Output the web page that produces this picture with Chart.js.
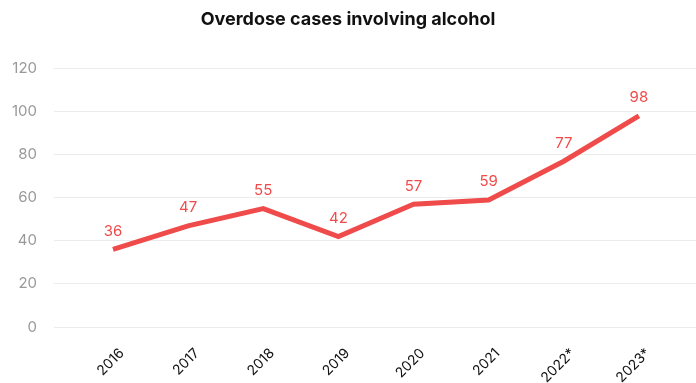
<!DOCTYPE html>
<html>
<head>
<meta charset="utf-8">
<script src="https://cdn.jsdelivr.net/npm/chart.js@4"></script>
<style>
  html, body { margin: 0; padding: 0; background: #fff; }
  #wrap { width: 696px; height: 383px; }
</style>
</head>
<body>
<div id="wrap"><canvas id="alcoholChart"></canvas></div>
<script>
// Overdose cases involving alcohol, per year
const years = ['2016', '2017', '2018', '2019', '2020', '2021', '2022*', '2023*'];
const cases = [36, 47, 55, 42, 57, 59, 77, 98];
const yTicks = [0, 20, 40, 60, 80, 100, 120];

const red = '#f04b4b';

// value above every point of the line
const valueLabels = {
  id: 'valueLabels',
  afterDatasetsDraw(chart) {
    const ctx = chart.ctx;
    const meta = chart.getDatasetMeta(0);
    ctx.save();
    ctx.fillStyle = red;
    ctx.font = '15px Inter';
    ctx.textAlign = 'center';
    ctx.textBaseline = 'middle';
    meta.data.forEach((pt, i) => {
      ctx.fillText(String(cases[i]), pt.x, pt.y - 18);
    });
    ctx.restore();
  }
};

const ctx = document.getElementById('alcoholChart').getContext('2d');
new Chart(ctx, {
  type: 'line',
  data: {
    datasets: [{
      label: 'Overdose cases involving alcohol',
      data: cases.map((v, i) => ({ x: i, y: v })),
      borderColor: red,
      borderWidth: 5,
      pointRadius: 0,
      tension: 0,
      fill: false
    }]
  },
  options: {
    responsive: true,
    maintainAspectRatio: false,
    animation: false,
    layout: { padding: 0 },
    plugins: {
      legend: { display: false },
      tooltip: { enabled: false },
      title: {
        display: true,
        text: 'Overdose cases involving alcohol',
        color: '#111',
        font: { family: 'Inter', size: 18, weight: 'bold' },
        padding: { top: 9, bottom: 38 }
      }
    },
    scales: {
      x: {
        type: 'linear',
        min: -0.785,
        max: 7.76,
        afterFit: axis => { axis.height = 56; },
        grid: { display: false },
        border: { display: false },
        ticks: {
          stepSize: 1,
          includeBounds: false,
          autoSkip: false,
          minRotation: 45,
          maxRotation: 45,
          labelOffset: 9,
          color: '#111',
          padding: 10,
          font: { family: 'Inter', size: 14 },
          callback: v => years[v] ?? ''
        }
      },
      y: {
        min: 0,
        max: 120,
        afterBuildTicks: axis => { axis.ticks = yTicks.map(v => ({ value: v })); },
        afterFit: axis => { axis.width = 54; },
        grid: { color: '#ececec', drawTicks: false },
        border: { display: false },
        ticks: {
          color: '#999',
          padding: 17,
          font: { family: 'Inter', size: 15 }
        }
      }
    }
  },
  plugins: [valueLabels]
});
</script>
</body>
</html>
